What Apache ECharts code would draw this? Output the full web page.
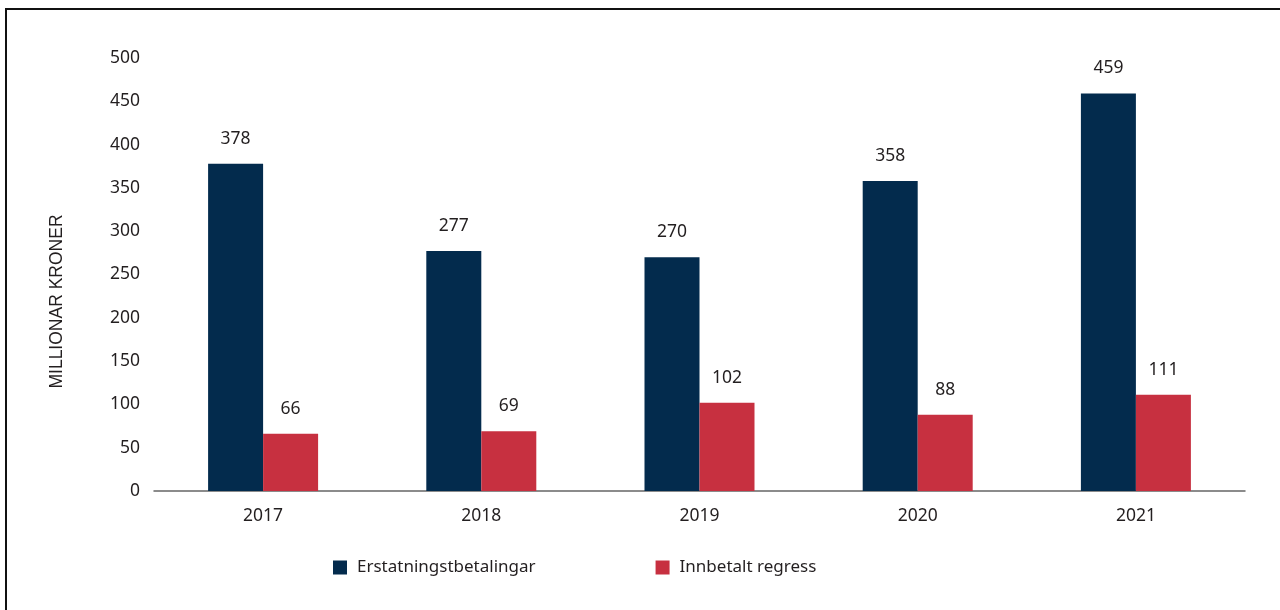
<!DOCTYPE html>
<html>
<head>
<meta charset="utf-8">
<script src="https://cdn.jsdelivr.net/npm/echarts@6/dist/echarts.min.js"></script>
<style>
  html, body { margin: 0; padding: 0; background: #fff; }
  #frame {
    position: absolute; left: 5px; top: 8px; width: 1400px; height: 700px;
    border-left: 2px solid #111; border-top: 2px solid #111;
  }
  #chart { position: absolute; left: 0; top: 0; width: 1280px; height: 610px; }
</style>
</head>
<body>
<div id="frame"></div>
<div id="chart"></div>
<script>
const years = ['2017', '2018', '2019', '2020', '2021'];
const erstatning = [378, 277, 270, 358, 459];
const regress = [66, 69, 102, 88, 111];
const yTicks = { min: 0, max: 500, interval: 50 };

const font = 'Noto Sans';
const textColor = '#231f20';

const myChart = echarts.init(document.getElementById('chart'));
const option = {
  animation: false,
  textStyle: { fontFamily: font },
  grid: { left: 154, right: 35, top: 58, bottom: 119 },
  legend: {
    top: 554,
    left: 328,
    itemWidth: 14,
    itemHeight: 14,
    itemGap: 120,
    icon: 'rect',
    textStyle: { fontFamily: font, fontSize: 17, color: textColor, padding: [0, 0, 0, 5] },
    data: ['Erstatningstbetalingar', 'Innbetalt regress']
  },
  xAxis: {
    type: 'category',
    data: years,
    axisLine: { lineStyle: { color: '#666', width: 1.5 } },
    axisTick: { show: false },
    axisLabel: { color: textColor, fontSize: 17.5, margin: 16, fontFamily: font }
  },
  yAxis: {
    type: 'value',
    min: yTicks.min,
    max: yTicks.max,
    interval: yTicks.interval,
    name: 'MILLIONAR KRONER',
    nameLocation: 'middle',
    nameGap: 88,
    nameRotate: 90,
    nameTextStyle: { color: textColor, fontSize: 17.5, fontFamily: 'Liberation Sans', padding: [0, 54, 0, 0] },
    axisLine: { show: false },
    axisTick: { show: false },
    splitLine: { show: false },
    axisLabel: { color: textColor, fontSize: 17.5, margin: 14, fontFamily: font }
  },
  series: [
    {
      name: 'Erstatningstbetalingar',
      type: 'bar',
      data: erstatning,
      barWidth: 55,
      barGap: '0%',
      itemStyle: { color: '#032b4d' },
      label: { show: true, position: 'top', distance: 16, color: textColor, fontSize: 17.5, fontFamily: font }
    },
    {
      name: 'Innbetalt regress',
      type: 'bar',
      data: regress,
      barWidth: 55,
      barGap: '0%',
      itemStyle: { color: '#c73040' },
      label: { show: true, position: 'top', distance: 16, color: textColor, fontSize: 17.5, fontFamily: font }
    }
  ]
};
myChart.setOption(option);
window.addEventListener('resize', () => { myChart.resize(); });
</script>
</body>
</html>
